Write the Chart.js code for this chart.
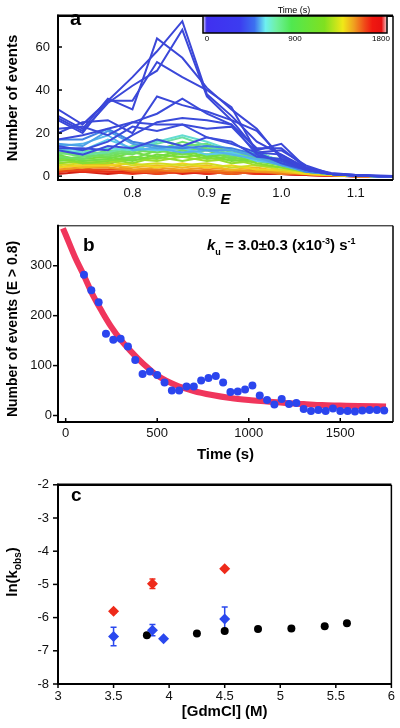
<!DOCTYPE html>
<html>
<head>
<meta charset="utf-8">
<script src="https://cdn.jsdelivr.net/npm/chart.js@4.4.0/dist/chart.umd.min.js"></script>
<style>
  body { margin: 0; background: #fff; width: 400px; height: 728px; overflow: hidden; }
  .panel { position: absolute; left: 0; width: 400px; }
</style>
</head>
<body>
<div class="panel" style="top:0;height:212px"><canvas id="chartA"></canvas></div>
<div class="panel" style="top:212px;height:256px"><canvas id="chartB"></canvas></div>
<div class="panel" style="top:468px;height:260px"><canvas id="chartC"></canvas></div>
<script>
// ---- panel a: E histograms, one line per time slice ----
const eBins = [0.700, 0.733, 0.767, 0.800, 0.833, 0.867, 0.900, 0.933, 0.967, 1.000, 1.033, 1.067, 1.100, 1.133, 1.167];
const histTimes = [0, 40, 80, 120, 160, 200, 240, 280, 320, 360,
  470, 500, 520, 545,
  600, 650, 700, 750, 800, 850, 900, 950, 1000, 1050, 1100, 1150,
  1250, 1300, 1350, 1400,
  1450, 1500, 1550, 1600, 1650, 1700, 1780];
const histCounts = [
  [31, 24, 35, 46, 58, 72, 38, 28, 16, 10, 4, 1.5, 0.5, 0.2, 0],
  [28, 22, 36, 31, 64, 55, 41, 31, 22, 8, 3, 1, 0.5, 0.2, 0],
  [27, 21, 34, 42, 49, 68, 37, 26, 12, 15, 4, 1, 0.5, 0, 0],
  [26, 20, 35, 35, 53, 46, 40, 32, 11, 12, 5, 1, 0.5, 0, 0],
  [20, 25, 26, 20, 37, 33, 30, 26, 21, 9, 3, 1, 0.3, 0, 0],
  [17, 19, 22, 25, 29, 36, 29, 24, 13, 13, 4, 1, 0.3, 0, 0],
  [22, 23, 19, 25, 24, 24, 22, 23, 11, 10, 3, 1, 0.3, 0, 0],
  [13, 13, 12, 19, 25, 27, 26, 24, 10, 7, 3, 1, 0.3, 0, 0],
  [14, 12, 16, 23, 21, 24, 18, 16, 9, 8, 3, 1, 0.2, 0, 0],
  [12, 10, 14, 13, 17, 14, 18, 15, 11, 6, 3, 1, 0.2, 0, 0],
  [17, 17, 22, 16, 14, 13, 14, 13, 10, 6, 2, 1, 0.2, 0, 0],
  [15, 14, 21, 15, 13, 14, 12, 12, 9, 5, 3, 1, 0.2, 0, 0],
  [14, 15, 19, 12, 13, 11, 12, 10, 8, 5, 2, 1, 0.2, 0, 0],
  [13, 12, 17, 13, 12, 13, 10, 11, 7, 6, 3, 1, 0.2, 0, 0],
  [12, 11, 13, 12, 16, 19, 16, 12, 11, 7, 4, 1, 0.2, 0, 0],
  [13, 10, 11, 14, 15, 18, 14, 10, 12, 6, 3, 1, 0.2, 0, 0],
  [11, 9, 12, 11, 17, 14, 15, 11, 9, 8, 4, 1, 0.2, 0, 0],
  [10, 12, 10, 13, 12, 16, 13, 12, 10, 6, 3, 1, 0.2, 0, 0],
  [9, 8, 11, 10, 14, 12, 13, 9, 11, 7, 4, 1, 0.2, 0, 0],
  [11, 10, 9, 12, 11, 13, 10, 11, 8, 5, 3, 1, 0.2, 0, 0],
  [8, 9, 10, 8, 12, 10, 12, 8, 9, 6, 3, 1, 0.2, 0, 0],
  [10, 7, 8, 11, 9, 12, 9, 10, 7, 5, 2, 1, 0.2, 0, 0],
  [7, 8, 9, 7, 10, 9, 10, 7, 8, 6, 3, 1, 0.2, 0, 0],
  [9, 6, 7, 9, 8, 11, 8, 9, 6, 4, 2, 1, 0.2, 0, 0],
  [6, 7, 8, 6, 9, 7, 9, 6, 7, 5, 2, 1, 0.2, 0, 0],
  [8, 6, 6, 8, 7, 9, 7, 8, 5, 4, 2, 1, 0.2, 0, 0],
  [5, 6, 7, 5, 6, 5, 6, 4, 5, 3, 2, 0.5, 0.2, 0, 0],
  [4, 5, 5, 6, 4, 6, 4, 5, 3, 3, 1, 0.5, 0.2, 0, 0],
  [6, 4, 5, 4, 5, 4, 5, 3, 4, 2, 1, 0.5, 0, 0, 0],
  [3, 4, 4, 3, 4, 3, 4, 3, 2, 2, 1, 0.5, 0, 0, 0],
  [4, 5, 6, 3, 3, 2, 3, 2, 3, 1, 2, 0.5, 0, 0, 0],
  [3, 4, 4, 2, 2, 3, 2, 1, 2, 1, 1, 0.3, 0, 0, 0],
  [2, 3, 3, 3, 1, 2, 2, 2, 3, 1, 1, 0.3, 0, 0, 0],
  [3, 2, 2, 1, 2, 3, 1, 2, 1, 2, 1, 0.3, 0, 0, 0],
  [2, 3, 2, 2, 3, 1, 2, 1, 2, 1, 0.5, 0.2, 0, 0, 0],
  [1, 2, 1, 2, 1, 2, 1, 2, 1, 1, 0.5, 0.2, 0, 0, 0],
  [2, 3, 6, 3, 2, 2, 2, 1, 2, 1, 0.5, 0.2, 0, 0, 0]
];
const eTicks = [0.8, 0.9, 1.0, 1.1];
const countTicks = [0, 20, 40, 60];

// ---- panel b: events with E > 0.8 vs time ----
const timePoints = [100, 140, 180, 220, 260, 300, 340, 380, 420, 460, 500, 540, 580, 620, 660, 700, 740, 780, 820, 860,
  900, 940, 980, 1020, 1060, 1100, 1140, 1180, 1220, 1260, 1300, 1340, 1380, 1420, 1460, 1500, 1540, 1580, 1620, 1660, 1700, 1740];
const eventCounts = [282, 251, 227, 164, 152, 154, 138, 111, 83, 88, 81, 66, 50, 50, 58, 58, 70, 75, 79, 66,
  47, 48, 52, 60, 40, 31, 22, 33, 23, 25, 13, 9, 11, 9, 14, 9, 9, 8, 10, 11, 11, 10];
const fitTimes = [-15, 0, 50, 100, 150, 200, 250, 300, 350, 400, 450, 500, 600, 700, 800, 900, 1000, 1100, 1200, 1300, 1400, 1500, 1600, 1750];
const fitCounts = [375, 362, 318, 280, 240, 207, 177, 152, 131, 112, 95, 80, 61, 49, 41, 35, 31, 28, 25, 23, 21, 20, 19, 18];
const timeTicks = [0, 500, 1000, 1500];
const eventTicks = [0, 100, 200, 300];

// ---- panel c: ln(kobs) vs [GdmCl] ----
const redX = [3.5, 3.85, 4.5];
const redY = [-5.81, -4.98, -4.53];
const redErr = [0.05, 0.14, 0.03];
const blueX = [3.5, 3.85, 3.95, 4.5];
const blueY = [-6.57, -6.38, -6.64, -6.04];
const blueErr = [0.28, 0.17, 0, 0.36];
const blackX = [3.8, 4.25, 4.5, 4.8, 5.1, 5.4, 5.6];
const blackY = [-6.53, -6.48, -6.40, -6.34, -6.33, -6.26, -6.17];
const gdmTicks = [3, 3.5, 4, 4.5, 5, 5.5, 6];
const lnkTicks = [-8, -7, -6, -5, -4, -3, -2];

// colour map for time (s)
const cmap = [
  [0.00, '#3b46d8'], [0.20, '#3b4ddb'], [0.26, '#3f80e2'], [0.30, '#5cc8ee'],
  [0.34, '#66e0cc'], [0.38, '#6fe07a'], [0.55, '#74dc3c'], [0.66, '#a8de28'],
  [0.72, '#f0d820'], [0.78, '#f09a20'], [0.84, '#ec5a1c'], [0.90, '#e82a18'], [1.00, '#b81414']
];
const barStops = [
  [0, '#e8e0f8'], [0.02, '#4030f0'], [0.2, '#3c3cf0'], [0.28, '#3c70f0'], [0.34, '#6ef0f0'],
  [0.4, '#70f0a0'], [0.48, '#50e850'], [0.66, '#80e020'], [0.76, '#f0e818'], [0.82, '#f0a020'],
  [0.88, '#f04818'], [0.92, '#f01810'], [0.97, '#e81010'], [1, '#f8d0d0']
];

function hexRgb(h) {
  return [1, 3, 5].map(i => parseInt(h.slice(i, i + 2), 16));
}
function timeColor(t) {
  const f = t / 1800;
  for (let i = 1; i < cmap.length; i++) {
    if (f <= cmap[i][0]) {
      const [f0, c0] = cmap[i - 1], [f1, c1] = cmap[i];
      const k = (f - f0) / (f1 - f0);
      const a = hexRgb(c0), b = hexRgb(c1);
      return 'rgb(' + a.map((v, j) => Math.round(v + (b[j] - v) * k)).join(',') + ')';
    }
  }
  return cmap[cmap.length - 1][1];
}

Chart.defaults.font.family = '"Liberation Sans", Arial, sans-serif';
Chart.defaults.color = '#111';

// frame round the plot area plus tick marks
const frame = {
  id: 'frame',
  afterDraw(chart, args, o) {
    const { ctx, chartArea: a, scales } = chart;
    ctx.save();
    ctx.strokeStyle = '#000';
    const line = (w, x1, y1, x2, y2) => {
      ctx.lineWidth = w;
      ctx.beginPath(); ctx.moveTo(x1, y1); ctx.lineTo(x2, y2); ctx.stroke();
    };
    line(o.top, a.left - 1, a.top, a.right, a.top);
    line(o.right, a.right, a.top, a.right, a.bottom);
    line(2, a.left, a.top - 1, a.left, a.bottom + 1);
    line(2, a.left - 1, a.bottom, a.right, a.bottom);
    scales.x.ticks.forEach(t => {
      const px = scales.x.getPixelForValue(t.value);
      const d = o.xIn ? -4 : 4;
      line(1.5, px, a.bottom, px, a.bottom + d);
    });
    scales.y.ticks.forEach(t => {
      const py = scales.y.getPixelForValue(t.value);
      const d = o.yIn ? 4 : -5;
      line(1.5, a.left, py, a.left + d, py);
    });
    ctx.restore();
  }
};

// free text (panel letters, rich labels, rotated axis titles)
const notes = {
  id: 'notes',
  afterDraw(chart, args, o) {
    const ctx = chart.ctx;
    (o.items || []).forEach(it => {
      ctx.save();
      ctx.translate(it.x, it.y);
      if (it.rotate) ctx.rotate(it.rotate);
      ctx.fillStyle = '#000';
      ctx.textBaseline = 'alphabetic';
      let w = 0;
      it.parts.forEach(p => { ctx.font = p.font; w += ctx.measureText(p.t).width; });
      let x = it.align === 'center' ? -w / 2 : 0;
      it.parts.forEach(p => {
        ctx.font = p.font;
        ctx.fillText(p.t, x, p.dy || 0);
        x += ctx.measureText(p.t).width;
      });
      ctx.restore();
    });
  }
};

// colour bar legend of panel a
const colorBar = {
  id: 'colorBar',
  afterDraw(chart) {
    const ctx = chart.ctx;
    const x0 = 203, x1 = 387, y0 = 16, y1 = 33;
    ctx.save();
    const g = ctx.createLinearGradient(x0, 0, x1, 0);
    barStops.forEach(s => g.addColorStop(s[0], s[1]));
    ctx.fillStyle = g;
    ctx.fillRect(x0, y0, x1 - x0, y1 - y0);
    ctx.strokeStyle = '#000';
    ctx.lineWidth = 1.5;
    ctx.strokeRect(x0, y0, x1 - x0, y1 - y0);
    ctx.fillStyle = '#000';
    ctx.textAlign = 'center';
    ctx.textBaseline = 'middle';
    ctx.font = '9px "Liberation Sans", Arial, sans-serif';
    ctx.fillText('Time (s)', 294, 11);
    ctx.font = '8px "Liberation Sans", Arial, sans-serif';
    ctx.fillText('0', 207, 39);
    ctx.fillText('900', 295, 39);
    ctx.fillText('1800', 381, 39);
    ctx.restore();
  }
};

// error bars for panel c
const errorBars = {
  id: 'errorBars',
  beforeDatasetsDraw(chart) {
    const { ctx, scales: { x, y } } = chart;
    chart.data.datasets.forEach(ds => {
      if (!ds.errors) return;
      ctx.save();
      ctx.strokeStyle = ds.backgroundColor;
      ctx.lineWidth = 1.5;
      ds.data.forEach((p, i) => {
        const e = ds.errors[i];
        if (!e) return;
        const px = x.getPixelForValue(p.x);
        const ya = y.getPixelForValue(p.y + e), yb = y.getPixelForValue(p.y - e);
        ctx.beginPath();
        ctx.moveTo(px, ya); ctx.lineTo(px, yb);
        ctx.moveTo(px - 3, ya); ctx.lineTo(px + 3, ya);
        ctx.moveTo(px - 3, yb); ctx.lineTo(px + 3, yb);
        ctx.stroke();
      });
      ctx.restore();
    });
  }
};

const bold = s => 'bold ' + s + 'px "Liberation Sans", Arial, sans-serif';
const plain = v => String(v);

function axis(min, max, tickVals, opts) {
  return Object.assign({
    type: 'linear', min: min, max: max,
    afterBuildTicks: s => { s.ticks = tickVals.map(v => ({ value: v })); },
    grid: { display: false, drawTicks: false },
    border: { display: false }
  }, opts);
}

const baseOptions = (pad, extra) => Object.assign({
  animation: false,
  responsive: true,
  maintainAspectRatio: false,
  layout: { padding: pad, autoPadding: false }
}, extra);

// panel a
new Chart(document.getElementById('chartA'), {
  type: 'line',
  data: {
    datasets: histCounts.map((row, i) => ({
      data: row.map((v, j) => ({ x: eBins[j], y: v })),
      borderColor: timeColor(histTimes[i]),
      borderWidth: 2,
      pointRadius: 0,
      tension: 0
    }))
  },
  options: baseOptions({ top: 1, right: 7, left: 0, bottom: 0 }, {
    plugins: {
      legend: { display: false },
      tooltip: { enabled: false },
      frame: { top: 2.5, right: 1.5, xIn: true, yIn: true },
      notes: {
        items: [
          { x: 70, y: 25, parts: [{ t: 'a', font: bold(20) }] },
          { x: 17, y: 98, rotate: -Math.PI / 2, align: 'center', parts: [{ t: 'Number of events', font: bold(15) }] }
        ]
      }
    },
    scales: {
      x: axis(0.70, 1.15, eTicks, {
        afterFit: s => { s.height = 32; },
        ticks: { font: { size: 13 }, color: '#111', padding: 6, autoSkip: false, maxRotation: 0, callback: v => v.toFixed(1) },
        title: { display: true, text: 'E', color: '#000', font: { size: 15, weight: 'bold', style: 'italic' }, padding: { top: 0, bottom: 3 } }
      }),
      y: axis(-1.8, 74.5, countTicks, {
        afterFit: s => { s.width = 58; },
        ticks: { font: { size: 13 }, color: '#111', padding: 8, autoSkip: false, callback: plain }
      })
    }
  }),
  plugins: [frame, notes, colorBar]
});

// panel b
new Chart(document.getElementById('chartB'), {
  type: 'line',
  data: {
    datasets: [
      {
        data: timePoints.map((t, i) => ({ x: t, y: eventCounts[i] })),
        showLine: false,
        pointRadius: 4,
        pointBackgroundColor: '#2b45ee',
        pointBorderWidth: 0
      },
      {
        data: fitTimes.map((t, i) => ({ x: t, y: fitCounts[i] })),
        borderColor: '#f0365c',
        borderWidth: 6,
        pointRadius: 0,
        cubicInterpolationMode: 'monotone'
      }
    ]
  },
  options: baseOptions({ top: 13, right: 7, left: 0, bottom: 0 }, {
    plugins: {
      legend: { display: false },
      tooltip: { enabled: false },
      frame: { top: 1, right: 1.5, xIn: true, yIn: false },
      notes: {
        items: [
          { x: 83, y: 39, parts: [{ t: 'b', font: bold(19) }] },
          { x: 207, y: 38, parts: [
            { t: 'k', font: 'italic ' + bold(15) },
            { t: 'u', font: bold(9), dy: 5 },
            { t: ' = 3.0±0.3 (x10', font: bold(15) },
            { t: '-3', font: bold(9), dy: -6 },
            { t: ') s', font: bold(15) },
            { t: '-1', font: bold(9), dy: -6 }
          ] },
          { x: 17, y: 117, rotate: -Math.PI / 2, align: 'center', parts: [{ t: 'Number of events (E > 0.8)', font: bold(14) }] }
        ]
      }
    },
    scales: {
      x: axis(-42, 1788, timeTicks, {
        afterFit: s => { s.height = 46; },
        ticks: { font: { size: 13 }, color: '#111', padding: 4, autoSkip: false, maxRotation: 0, callback: plain },
        title: { display: true, text: 'Time (s)', color: '#000', font: { size: 15, weight: 'bold' }, padding: { top: 0, bottom: 4 } }
      }),
      y: axis(-13, 380, eventTicks, {
        afterFit: s => { s.width = 58; },
        ticks: { font: { size: 13 }, color: '#111', padding: 6, autoSkip: false, callback: plain }
      })
    }
  }),
  plugins: [frame, notes]
});

// panel c
new Chart(document.getElementById('chartC'), {
  type: 'scatter',
  data: {
    datasets: [
      {
        data: redX.map((x, i) => ({ x: x, y: redY[i] })),
        errors: redErr,
        pointStyle: 'rectRot', pointRadius: 5.5,
        backgroundColor: '#ee2a1a', borderWidth: 0
      },
      {
        data: blueX.map((x, i) => ({ x: x, y: blueY[i] })),
        errors: blueErr,
        pointStyle: 'rectRot', pointRadius: 5.5,
        backgroundColor: '#2a48ee', borderWidth: 0
      },
      {
        data: blackX.map((x, i) => ({ x: x, y: blackY[i] })),
        pointStyle: 'circle', pointRadius: 4,
        backgroundColor: '#000', borderWidth: 0
      }
    ]
  },
  options: baseOptions({ top: 8, right: 5, left: 0, bottom: 0 }, {
    plugins: {
      legend: { display: false },
      tooltip: { enabled: false },
      frame: { top: 2.5, right: 1.5, xIn: false, yIn: false },
      notes: {
        items: [
          { x: 71, y: 33, parts: [{ t: 'c', font: bold(19) }] },
          { x: 17, y: 104, rotate: -Math.PI / 2, align: 'center', parts: [
            { t: 'ln(k', font: bold(15) },
            { t: 'obs', font: bold(10), dy: 4 },
            { t: ')', font: bold(15) }
          ] }
        ]
      }
    },
    scales: {
      x: axis(3, 6, gdmTicks, {
        afterFit: s => { s.height = 44; },
        ticks: { font: { size: 13 }, color: '#111', padding: 5, autoSkip: false, maxRotation: 0, callback: plain },
        title: { display: true, text: '[GdmCl] (M)', color: '#000', font: { size: 15, weight: 'bold' }, padding: { top: 0, bottom: 7 } }
      }),
      y: axis(-8, -2, lnkTicks, {
        afterFit: s => { s.width = 58; },
        ticks: { font: { size: 13 }, color: '#111', padding: 9, autoSkip: false, callback: plain }
      })
    }
  }),
  plugins: [frame, notes, errorBars]
});
</script>
</body>
</html>
